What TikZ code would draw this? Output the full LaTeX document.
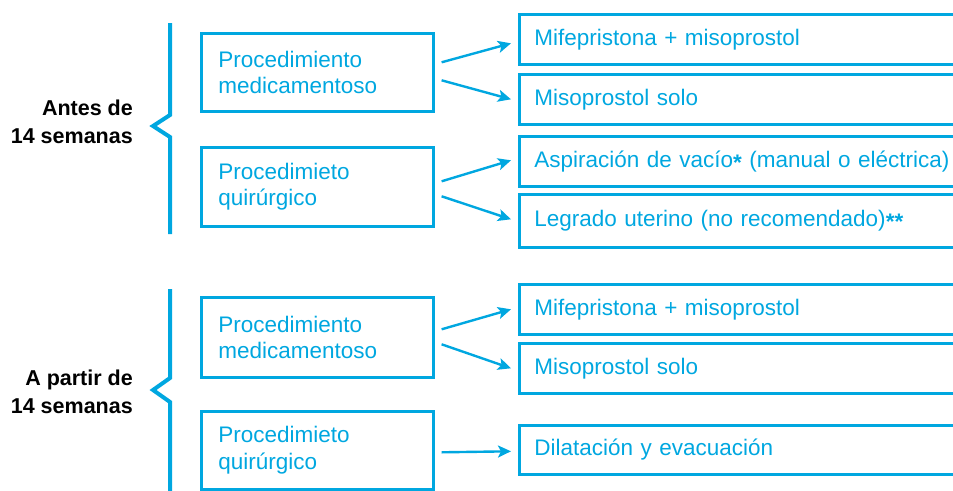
\documentclass[tikz,border=0pt]{standalone}
\usepackage{fontspec}
\setmainfont{Liberation Sans}
\usetikzlibrary{arrows.meta,calc}
\definecolor{cyanb}{RGB}{0,167,224}
\newcommand{\astk}{\raisebox{-3pt}{\bfseries *}}
\tikzset{
  leftbox/.style={draw=cyanb, line width=2.6pt, text=cyanb, anchor=north west,
    minimum width=232pt, inner xsep=17pt, text width=198pt, align=left,
    font=\fontsize{22.5}{26.5}\selectfont},
  rightbox/.style={draw=cyanb, line width=2.6pt, text=cyanb, anchor=north west,
    minimum width=480pt, inner xsep=15pt, text width=450pt, align=left,
    font=\fontsize{22.5}{26.5}\selectfont},
  grouplabel/.style={anchor=east, align=right, text=black,
    font=\fontsize{21.5}{28.5}\selectfont\bfseries, inner sep=0pt},
  brace/.style={draw=cyanb, line width=4pt, miter limit=10},
  arr/.style={draw=cyanb, line width=2.4pt, -{Stealth[length=13pt,width=12pt,inset=3pt]}}
}
\begin{document}
\begin{tikzpicture}[x=1pt,y=-1pt]
\useasboundingbox (0,0) rectangle (953,490);
\clip (0,0) rectangle (953,490);
% group labels
\node[grouplabel] (g1) at (133,122) {Antes de\\14 semanas};
\node[grouplabel] (g2) at (133,392) {A partir de\\14 semanas};
% braces
\coordinate (b1t) at (170,23);
\coordinate (b1n) at (153,126);
\coordinate (b1b) at (170,234);
\draw[brace] (b1t) -- (170,115) -- (b1n) -- (170,137) -- (b1b);
\coordinate (b2t) at (170,289);
\coordinate (b2n) at (153,390);
\coordinate (b2b) at (170,495);
\draw[brace] (b2t) -- (170,378) -- (b2n) -- (170,402) -- (b2b);
% left boxes
\node[leftbox, minimum height=78pt] (L1) at (200,32) {Procedimiento\\medicamentoso};
\node[leftbox, minimum height=79pt] (L2) at (200,146) {Procedimieto\\quirúrgico};
\node[leftbox, minimum height=80pt] (L3) at (200,296) {Procedimiento\\medicamentoso};
\node[leftbox, minimum height=78pt] (L4) at (200,410) {Procedimieto\\quirúrgico};
% right boxes
\node[rightbox, minimum height=50pt] (R1) at (518,13) {Mifepristona + misoprostol};
\node[rightbox, minimum height=50pt] (R2) at (518,73) {Misoprostol solo};
\node[rightbox, minimum height=50pt] (R3) at (518,135) {Aspiración de vacío\astk{} (manual o eléctrica)};
\node[rightbox, minimum height=53pt] (R4) at (518,193) {Legrado uterino (no recomendado)\astk\astk};
\node[rightbox, minimum height=50pt] (R5) at (518,283) {Mifepristona + misoprostol};
\node[rightbox, minimum height=50pt] (R6) at (518,342) {Misoprostol solo};
\node[rightbox, minimum height=49pt] (R7) at (518,424) {Dilatación y evacuación};
% arrows
\draw[arr] ($(L1.east)+(7,-10)$) -- ($(R1.west)+(-7,4)$);
\draw[arr] ($(L1.east)+(7,8)$) -- ($(R2.west)+(-7,0)$);
\draw[arr] ($(L2.east)+(7,-5.5)$) -- ($(R3.west)+(-7,-1)$);
\draw[arr] ($(L2.east)+(7,9.5)$) -- ($(R4.west)+(-7,-1.5)$);
\draw[arr] ($(L3.east)+(7,-8)$) -- ($(R5.west)+(-7,0)$);
\draw[arr] ($(L3.east)+(7,7)$) -- ($(R6.west)+(-7,0)$);
\draw[arr] ($(L4.east)+(7,2)$) -- ($(R7.west)+(-7,1.5)$);
\end{tikzpicture}
\end{document}
